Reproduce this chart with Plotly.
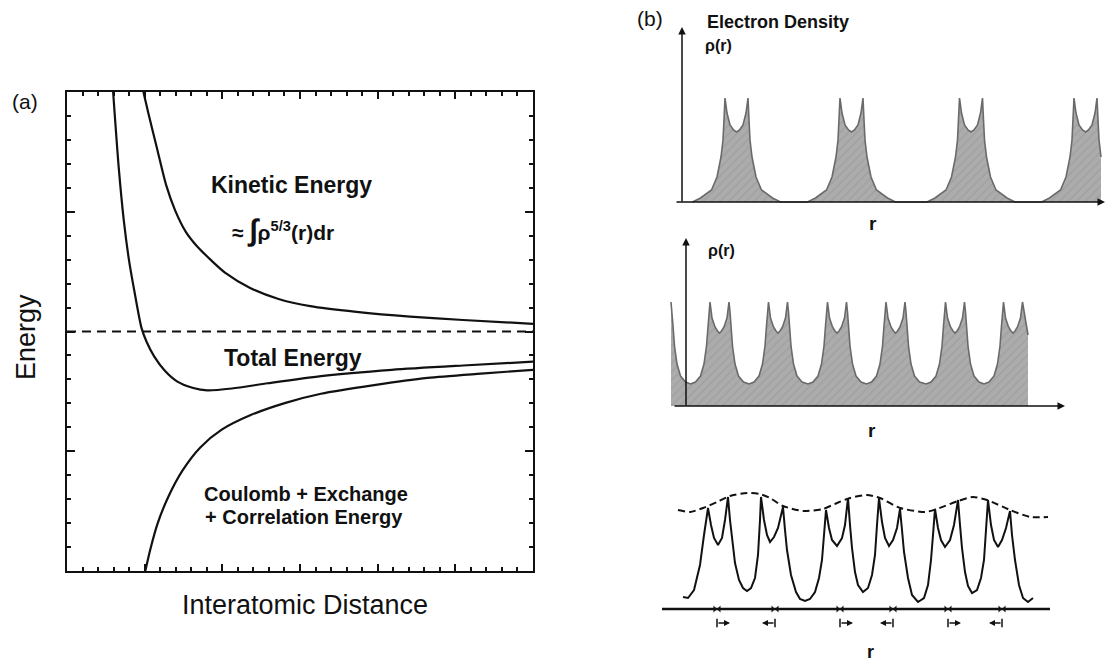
import plotly.graph_objects as go

W, H = 1110, 663

# ---------------- Panel (a): energy vs interatomic distance (normalized units) ----------------
ke_x = [0.164, 0.175, 0.194, 0.213, 0.232, 0.255, 0.278, 0.309, 0.339, 0.393, 0.454, 0.522, 0.621, 0.736, 0.85, 1.0]
ke_y = [1.0, 0.954, 0.879, 0.805, 0.753, 0.708, 0.679, 0.649, 0.623, 0.591, 0.568, 0.553, 0.541, 0.531, 0.524, 0.516]
te_x = [0.099, 0.111, 0.122, 0.133, 0.145, 0.16, 0.171, 0.187, 0.21, 0.236, 0.271, 0.301, 0.354, 0.431, 0.545, 0.697, 0.85, 1.0]
te_y = [1.0, 0.842, 0.731, 0.649, 0.582, 0.507, 0.478, 0.448, 0.418, 0.396, 0.382, 0.377, 0.381, 0.392, 0.407, 0.42, 0.429, 0.437]
ce_x = [0.168, 0.179, 0.194, 0.217, 0.248, 0.286, 0.332, 0.393, 0.469, 0.545, 0.659, 0.774, 0.888, 1.0]
ce_y = [0.0, 0.046, 0.098, 0.154, 0.21, 0.258, 0.295, 0.325, 0.351, 0.37, 0.388, 0.403, 0.412, 0.42]
dash_x = [0.0, 1.0]
dash_y = [0.5, 0.5]

# ---------------- Panel (b) top: isolated atoms (r, rho) ----------------
b1_centers = [54.5, 169.5, 289.0, 403.5]
b1_dx = [-44, -36, -25, -19.5, -15.5, -13.5, -12.5, -11.5, -9.5, -6.5, -3, 0,
         3, 6.5, 9.5, 11.5, 12.5, 13.5, 15.5, 19.5, 25, 36, 44]
b1_h = [0, 4, 12, 25, 45, 62, 82, 104, 89, 77, 72, 70,
        72, 77, 89, 104, 82, 62, 45, 25, 12, 4, 0]
b1_cut = 420.0

# ---------------- Panel (b) middle: compressed solid ----------------
b2_centers = [-24.5, 33.5, 92.0, 151.0, 209.5, 269.0, 327.0]
b2_dx = [-29, -24, -19, -15.5, -13, -11.5, -10.5, -9.5, -7.5, -4.5, -2, 0,
         2, 4.5, 7.5, 9.5, 10.5, 11.5, 13, 15.5, 19, 24]
b2_h = [22, 24, 30, 42, 60, 80, 94, 104, 88, 79, 75, 73,
        75, 79, 88, 104, 94, 80, 60, 42, 30, 24]
b2_start, b2_end = -15.0, 336.5
b2_tail_r = [342.0]
b2_tail_h = [71]

# ---------------- Panel (b) bottom: distorted chain ----------------
b3_r = [21, 26, 32, 38, 42, 45, 46, 49, 52, 56, 60, 63, 66, 68, 70, 73, 77, 81, 85, 89, 93, 96, 98, 99,
        102, 105, 108, 112, 116, 121, 123, 125, 129, 134, 138, 143, 148, 153, 157, 160, 162, 164,
        167, 170, 175, 180, 183, 186, 188, 190, 193, 196, 201, 206, 210, 213, 215, 217,
        220, 223, 227, 231, 235, 238, 240, 242, 246, 250, 256, 262, 266, 269, 271, 273,
        276, 279, 283, 288, 292, 296, 298, 300, 303, 306, 310, 315, 319, 322, 324, 326,
        329, 332, 336, 340, 344, 348, 350, 353, 357, 361, 366, 371]
b3_h = [12, 11, 19, 44, 74, 97, 101, 84, 71, 64, 71, 89, 112, 89, 69, 46, 29, 21, 18, 21, 31, 54, 89, 112,
        89, 74, 67, 72, 81, 102, 79, 59, 34, 17, 10, 8, 10, 17, 31, 49, 74, 99,
        81, 69, 63, 71, 84, 111, 84, 61, 37, 24, 17, 21, 34, 54, 84, 111,
        87, 71, 63, 69, 81, 100, 79, 57, 31, 14, 7, 11, 24, 49, 74, 100,
        81, 69, 62, 69, 84, 109, 84, 61, 37, 23, 16, 19, 31, 49, 79, 109,
        84, 69, 62, 69, 81, 98, 74, 49, 24, 11, 7, 11]
b3_env_r = [16, 28, 41, 55, 68, 85, 98, 108, 121, 141, 161, 175, 188, 205, 218, 238, 263, 275,
            296, 311, 325, 348, 368, 386]
b3_env_h = [99, 97, 101, 107, 113, 116, 115, 111, 103, 98, 100, 106, 111, 114, 111, 101, 97, 100,
            108, 112, 109, 99, 92, 92]
b3_tick_r = [55, 113, 178, 231, 286, 340]
b3_arrow_tail = [55, 113, 178, 231, 286, 340]
b3_arrow_head = [68, 100, 191, 218, 299, 327]

# ---------------- build shaded profiles ----------------
b1_r, b1_rho = [], []
for c in b1_centers:
    for dx, h in zip(b1_dx, b1_h):
        if c + dx <= b1_cut:
            b1_r.append(c + dx)
            b1_rho.append(h)

b2_r, b2_rho = [], []
for c in b2_centers:
    for dx, h in zip(b2_dx, b2_h):
        if b2_start <= c + dx <= b2_end:
            b2_r.append(c + dx)
            b2_rho.append(h)
b2_r += b2_tail_r
b2_rho += b2_tail_h

fig = go.Figure()

BLACK = "#111111"
# panel (a)
fig.add_trace(go.Scatter(x=dash_x, y=dash_y, mode="lines",
                         line=dict(color=BLACK, width=2, dash="9px,6px"), xaxis="x", yaxis="y"))
for xs, ys in [(ke_x, ke_y), (te_x, te_y), (ce_x, ce_y)]:
    fig.add_trace(go.Scatter(x=xs, y=ys, mode="lines",
                             line=dict(color=BLACK, width=2.2, shape="spline", smoothing=0.7),
                             xaxis="x", yaxis="y"))

pattern = dict(shape="/", bgcolor="#acacac", fgcolor="#959595", size=6, solidity=0.25)
fig.add_trace(go.Scatter(x=b1_r, y=b1_rho, mode="lines", fill="tozeroy",
                         fillcolor="#acacac", fillpattern=pattern,
                         line=dict(color="#6a6a6a", width=1.6), xaxis="x2", yaxis="y2"))
fig.add_trace(go.Scatter(x=b2_r, y=b2_rho, mode="lines", fill="tozeroy",
                         fillcolor="#acacac", fillpattern=pattern,
                         line=dict(color="#6a6a6a", width=1.6), xaxis="x3", yaxis="y3"))
fig.add_trace(go.Scatter(x=b3_env_r, y=b3_env_h, mode="lines",
                         line=dict(color=BLACK, width=2, dash="7px,4px", shape="spline", smoothing=0.6),
                         xaxis="x4", yaxis="y4"))
fig.add_trace(go.Scatter(x=b3_r, y=b3_h, mode="lines",
                         line=dict(color=BLACK, width=2), xaxis="x4", yaxis="y4"))
fig.add_trace(go.Scatter(x=b3_tick_r, y=[0] * len(b3_tick_r), mode="markers",
                         marker=dict(symbol="bowtie", size=7, color=BLACK), xaxis="x4", yaxis="y4"))
fig.add_trace(go.Scatter(x=b3_arrow_tail, y=[-14] * len(b3_arrow_tail), mode="markers",
                         marker=dict(symbol="line-ns", size=6, line=dict(width=1.5, color=BLACK)),
                         xaxis="x4", yaxis="y4"))

# b3 axis line
fig.add_shape(type="line", xref="x4", yref="y4", x0=0, x1=388, y0=0, y1=0,
              line=dict(color=BLACK, width=2.5))

ann = []
def arrow(xr, yr, x0, y0, x1, y1, w=1.5, size=1.0):
    ann.append(dict(xref=xr, yref=yr, axref=xr, ayref=yr, x=x1, y=y1, ax=x0, ay=y0,
                    showarrow=True, arrowhead=2, arrowsize=size, arrowwidth=w,
                    arrowcolor=BLACK, text="", standoff=0, startstandoff=0))

# axis arrows of panel (b)
arrow("x2", "y2", 0, -1, 0, 175)
arrow("x2", "y2", -7, 0, 423, 0)
arrow("x3", "y3", 0, -1, 0, 168)
arrow("x3", "y3", -13, 0, 379, 0)
for t, h in zip(b3_arrow_tail, b3_arrow_head):
    arrow("x4", "y4", t, -14, h, -14, w=1.5, size=0.8)

BOLD = "Liberation Sans, Arial, sans-serif"
def txt(xr, yr, x, y, s, size, xanchor="center", bold=True, angle=0):
    ann.append(dict(xref=xr, yref=yr, x=x, y=y, text=("<b>%s</b>" % s) if bold else s,
                    showarrow=False, xanchor=xanchor, yanchor="middle", textangle=angle,
                    font=dict(family=BOLD, size=size, color=BLACK)))

# panel (a) labels
txt("x", "y", 0.305, 0.805, "Kinetic Energy", 23, "left")
txt("x", "y", 0.350, 0.712,
    "≈ <span style='font-size:30px'>∫</span>ρ<sup>5/3</sup>(r)dr", 21, "left")
txt("x", "y", 0.333, 0.444, "Total Energy", 23, "left")
txt("x", "y", 0.289, 0.161, "Coulomb + Exchange", 20, "left")
txt("x", "y", 0.291, 0.113, "+ Correlation Energy", 20, "left")
txt("paper", "paper", 305 / W, 1 - 605 / H, "Interatomic Distance", 27, bold=False)
txt("paper", "paper", 26 / W, 1 - 337 / H, "Energy", 27, bold=False, angle=-90)
txt("paper", "paper", 25 / W, 1 - 101 / H, "(a)", 21, bold=False)
txt("paper", "paper", 650 / W, 1 - 18 / H, "(b)", 21, bold=False)

# panel (b) labels
txt("x2", "y2", 23, 180, "Electron Density", 18, "left")
txt("x2", "y2", 21, 156, "ρ(r)", 16, "left")
txt("x2", "y2", 191, -22, "r", 19)
txt("x3", "y3", 20, 156, "ρ(r)", 16, "left")
txt("x3", "y3", 186, -24, "r", 19)
txt("x4", "y4", 208, -43, "r", 18)

hidden = dict(visible=False, showgrid=False, zeroline=False, fixedrange=True)
fig.update_layout(
    width=W, height=H, margin=dict(l=0, r=0, t=0, b=0),
    paper_bgcolor="white", plot_bgcolor="white", showlegend=False,
    annotations=ann,
    xaxis=dict(domain=[67 / W, 533 / W], range=[0, 1], showline=True, linewidth=2, linecolor=BLACK,
               mirror="ticks", ticks="inside", tick0=0, dtick=1 / 6, ticklen=7, tickwidth=1.5,
               tickcolor=BLACK, showticklabels=False, showgrid=False, zeroline=False,
               minor=dict(dtick=1 / 30, ticks="inside", ticklen=4, tickwidth=1.5, tickcolor=BLACK,
                          showgrid=False),
               anchor="y"),
    yaxis=dict(domain=[1 - 571 / H, 1 - 92 / H], range=[0, 1], showline=True, linewidth=2,
               linecolor=BLACK, mirror="ticks", ticks="inside", tick0=0, dtick=0.25, ticklen=8,
               tickwidth=1.5, tickcolor=BLACK, showticklabels=False, showgrid=False, zeroline=False,
               minor=dict(dtick=0.05, ticks="inside", ticklen=4, tickwidth=1.5, tickcolor=BLACK,
                          showgrid=False),
               anchor="x"),
    xaxis2=dict(domain=[640 / W, 1], range=[-42, 428], anchor="y2", **hidden),
    yaxis2=dict(domain=[1 - 240 / H, 1 - 10 / H], range=[-38, 192], anchor="x2", **hidden),
    xaxis3=dict(domain=[640 / W, 1], range=[-46, 424], anchor="y3", **hidden),
    yaxis3=dict(domain=[1 - 450 / H, 1 - 225 / H], range=[-44, 181], anchor="x3", **hidden),
    xaxis4=dict(domain=[640 / W, 1], range=[-22, 448], anchor="y4", **hidden),
    yaxis4=dict(domain=[0, 1 - 440 / H], range=[-54, 169], anchor="x4", **hidden),
)

fig.write_html("out.html", config={"displayModeBar": False},
               post_script="document.body.style.margin='0';")
